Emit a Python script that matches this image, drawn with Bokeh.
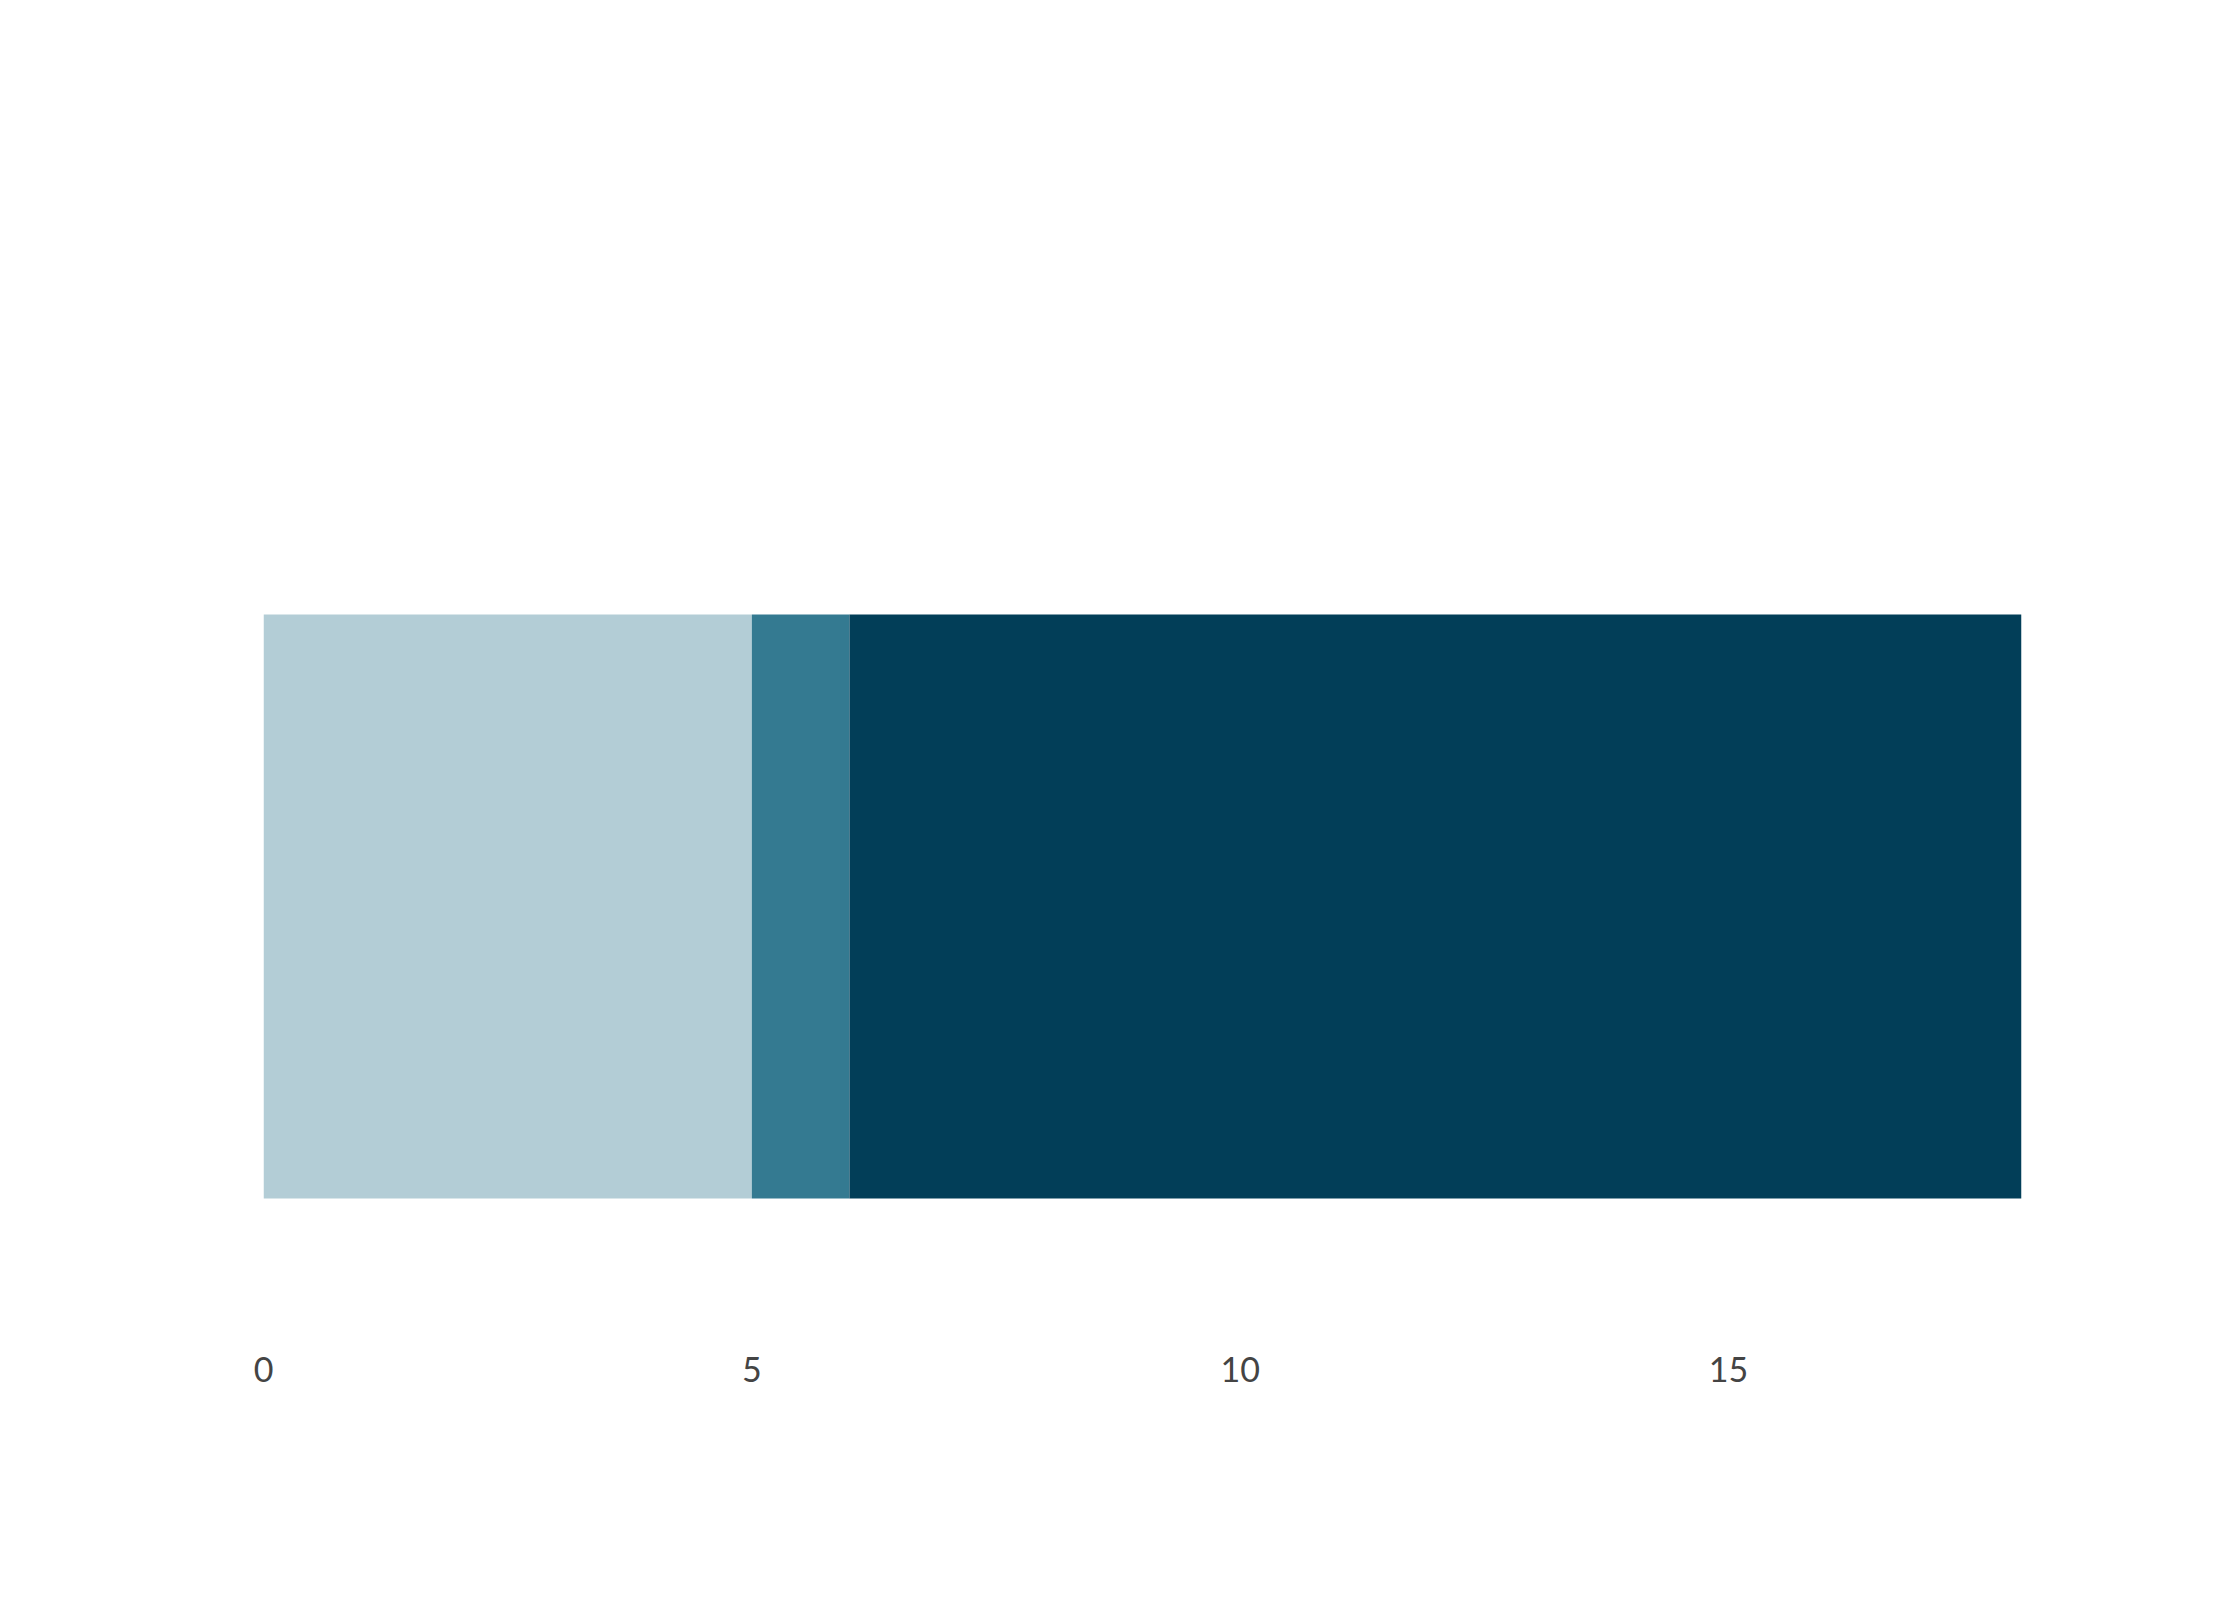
from bokeh.plotting import figure
from bokeh.models import Label, BoxAnnotation, ColumnDataSource
from bokeh.embed import file_html
from bokeh.resources import INLINE

categories = ["2026-2031", "2032-2041", "2042+"]
values = [5, 1, 12]
colors = ["#b3cdd6", "#347a91", "#023e58"]
ticks = [0, 5, 10, 15]

W, H = 2224, 1584
FL, FR, FT, FB = 263, 2021, 560, 1252
p = figure(width=W, height=H, output_backend="svg", toolbar_location=None,
           x_range=(0, 18), y_range=(0, 1),
           min_border_left=FL, min_border_right=W - FR, min_border_top=FT, min_border_bottom=H - FB)
p.outline_line_color = None
p.xgrid.visible = False
p.ygrid.visible = False
p.yaxis.visible = False
p.xaxis.ticker = ticks
p.xaxis.axis_line_color = None
p.xaxis.major_tick_line_color = None
p.xaxis.minor_tick_line_color = None
p.xaxis.major_label_standoff = 98
p.xaxis.major_label_text_font = "Lato"
p.xaxis.major_label_text_font_size = "34px"
p.xaxis.major_label_text_color = "#444444"

left = 0
lefts, rights = [], []
for v in values:
    lefts.append(left); rights.append(left + v); left += v
src = ColumnDataSource(dict(left=lefts, right=rights, color=colors))
p.hbar(y=0.5, left="left", right="right", height=0.844, color="color", source=src, line_color=None)

def fx(x): return x - FL
def fy(y): return FB - y

for i, t in enumerate(["Number of Properties by Subsidy Expiration Period", "in Borough Park, 2025"]):
    p.add_layout(Label(x=fx(126), y=fy(189 + 107 * i), x_units="screen", y_units="screen", text=t,
                       text_font="Lato", text_font_style="bold", text_font_size="74px",
                       text_color="#111111"))

lx = [128, 543, 957]
for x0, c, cat in zip(lx, colors, categories):
    p.add_layout(BoxAnnotation(left=fx(x0), right=fx(x0 + 69), top=fy(400), bottom=fy(469),
                               left_units="screen", right_units="screen", top_units="screen",
                               bottom_units="screen", fill_color=c, fill_alpha=1, line_color=None))
    p.add_layout(Label(x=fx(x0 + 80), y=fy(434), x_units="screen", y_units="screen", text=cat,
                       text_font="Lato", text_font_size="43px", text_baseline="middle",
                       text_color="#111111"))

p.add_layout(Label(x=fx(126), y=fy(1462), x_units="screen", y_units="screen",
                   text="Sources: Subsidized Housing Database, NYU Furman Center",
                   text_font="Lato", text_font_style="italic", text_font_size="40px",
                   text_color="#555555"))

open("out.html", "w").write(file_html(p, INLINE))
